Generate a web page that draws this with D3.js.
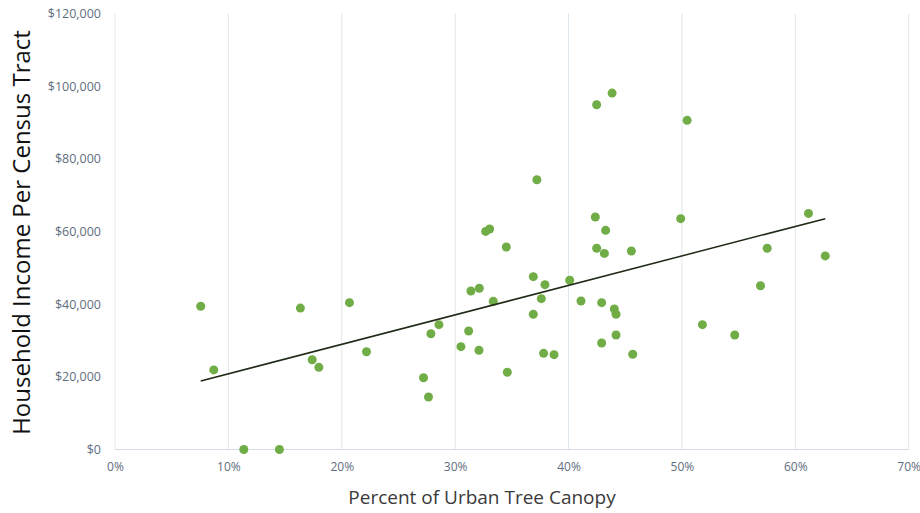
<!DOCTYPE html>
<html>
<head>
<meta charset="utf-8">
<script src="https://cdn.jsdelivr.net/npm/d3@7"></script>
<style>
  html, body { margin: 0; padding: 0; background: #fff; }
  svg { display: block; }
</style>
</head>
<body>
<svg id="chart" width="920" height="513"></svg>
<script>
// Percent of urban tree canopy (%) for each census tract
const canopyPct = [
  7.56, 8.71, 11.36, 14.50, 16.35, 17.39, 17.98, 20.68, 22.18,
  27.21, 27.65, 27.86, 28.57, 30.51, 31.19, 31.39, 32.13, 32.10,
  32.69, 33.04, 33.36, 34.51, 34.60, 36.89, 36.89, 37.21, 37.60,
  37.80, 37.92, 38.72, 40.10, 41.10, 42.48, 42.36, 42.48, 42.92,
  42.92, 43.16, 43.27, 43.84, 44.04, 44.19, 44.19, 45.54, 45.66,
  49.89, 50.46, 51.81, 54.66, 56.93, 57.52, 61.16, 62.64
];
// Household income per census tract ($)
const income = [
  39400, 21900, 0, 0, 38900, 24700, 22600, 40400, 26900,
  19750, 14450, 31850, 34350, 28300, 32600, 43600, 44350, 27300,
  60000, 60650, 40750, 55700, 21250, 47550, 37200, 74200, 41500,
  26450, 45350, 26100, 46550, 40850, 94850, 63950, 55350, 40400,
  29300, 53950, 60300, 98050, 38650, 37200, 31500, 54600, 26200,
  63500, 90550, 34350, 31500, 45050, 55350, 64950, 53250
];
// Linear trendline endpoints (canopy %, income $)
const trendX = [7.56, 62.64];
const trendY = [18850, 63500];

const xTicks = [0, 10, 20, 30, 40, 50, 60, 70];
const yTicks = [0, 20000, 40000, 60000, 80000, 100000, 120000];

const xTitle = "Percent of Urban Tree Canopy";
const yTitle = "Household Income Per Census Tract";

const svg = d3.select("#chart");
const mLeft = 115, mRight = 908.7, mTop = 13.3, mBottom = 449.5;

const x = d3.scaleLinear().domain([0, 70]).range([mLeft, mRight]);
const y = d3.scaleLinear().domain([0, 120000]).range([mBottom, mTop]);

const gridColor = "#e1e7ee";
const tickColor = "#5f6e80";
const font = "'Open Sans', 'Noto Sans', sans-serif";

// vertical gridlines
svg.append("g")
  .selectAll("line")
  .data(xTicks)
  .join("line")
  .attr("x1", d => x(d)).attr("x2", d => x(d))
  .attr("y1", y(120000)).attr("y2", y(0))
  .attr("stroke", gridColor).attr("stroke-width", 1);

// bottom axis line
svg.append("line")
  .attr("x1", x(0)).attr("x2", x(70))
  .attr("y1", y(0)).attr("y2", y(0))
  .attr("stroke", "#d6dde6").attr("stroke-width", 1);

// x axis labels
const xAxis = d3.axisBottom(x).tickValues(xTicks).tickFormat(d => d + "%").tickSize(0).tickPadding(13);
const gx = svg.append("g").attr("transform", `translate(0,${y(0)})`).call(xAxis);
gx.select(".domain").remove();
gx.selectAll("text").attr("fill", tickColor).style("font-family", font).style("font-size", "12px");

// y axis labels
const yAxis = d3.axisLeft(y).tickValues(yTicks).tickFormat(d => "$" + d3.format(",")(d)).tickSize(0).tickPadding(14);
const gy = svg.append("g").attr("transform", `translate(${x(0)},0)`).call(yAxis);
gy.select(".domain").remove();
gy.selectAll("text").attr("fill", tickColor).style("font-family", font).style("font-size", "12.5px");

// points
const pts = canopyPct.map((c, i) => ({ c, v: income[i] }));
svg.append("g")
  .selectAll("circle")
  .data(pts)
  .join("circle")
  .attr("cx", d => x(d.c))
  .attr("cy", d => y(d.v))
  .attr("r", 4.5)
  .attr("fill", "#70ad47");

// trendline
const trend = trendX.map((t, i) => [t, trendY[i]]);
svg.append("path")
  .datum(trend)
  .attr("d", d3.line().x(d => x(d[0])).y(d => y(d[1])))
  .attr("fill", "none")
  .attr("stroke", "#1f2a14")
  .attr("stroke-width", 1.5);

// axis titles
svg.append("text")
  .attr("x", 482)
  .attr("y", 504)
  .attr("text-anchor", "middle")
  .attr("fill", "#3a3a3a")
  .style("font-family", font)
  .style("font-size", "19px")
  .text(xTitle);

svg.append("text")
  .attr("transform", `translate(30,232.5) rotate(-90)`)
  .attr("text-anchor", "middle")
  .attr("fill", "#111")
  .style("font-family", font)
  .style("font-size", "24px")
  .text(yTitle);
</script>
</body>
</html>
